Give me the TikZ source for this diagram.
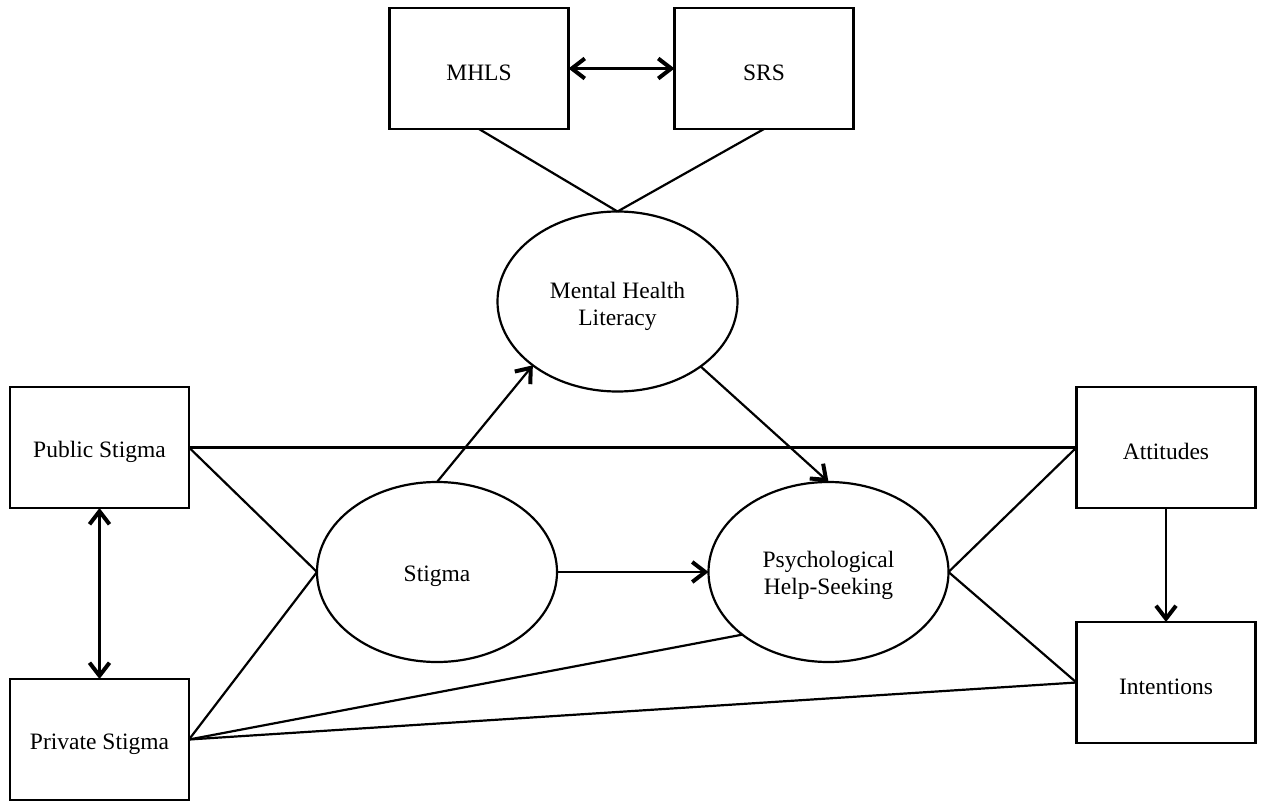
\documentclass[tikz,border=0pt]{standalone}
\usepackage{fontspec}
\setmainfont{Liberation Serif}
\usetikzlibrary{arrows.meta,shapes.geometric}
\begin{document}
\begin{tikzpicture}[x=1pt,y=-1pt,
  every node/.style={font=\fontsize{23.5}{27}\selectfont, align=center},
  lower/.style={execute at begin node={\rule{0pt}{25pt}}},
  box/.style={draw, line width=2.2pt, rectangle, minimum width=179pt, minimum height=121pt, inner sep=0pt, outer sep=0pt, lower},
  latent/.style={draw, line width=2.2pt, ellipse, minimum width=240pt, minimum height=180pt, inner sep=0pt, outer sep=0pt},
  conn/.style={line width=2.2pt},
  onearrow/.style={conn, -{Straight Barb[length=13pt,width=20pt,line width=4pt]}},
  twoarrow/.style={conn, {Straight Barb[length=13pt,width=20pt,line width=4pt]}-{Straight Barb[length=13pt,width=20pt,line width=4pt]}}
]
\useasboundingbox (0,0) rectangle (1262,803);
% boxes
\node[box] (mhls) at (479,68.5) {MHLS};
\node[box] (srs) at (764,68.5) {SRS};
\node[box] (pub) at (99.5,447.5) {Public Stigma};
\node[box] (priv) at (99.5,739.5) {Private Stigma};
\node[box] (att) at (1166,447.5) {Attitudes};
\node[box] (int) at (1166,682.5) {Intentions};
% latent variables
\node[latent] (mhl) at (617.5,301.5) {\rule{0pt}{27pt}Mental Health\\Literacy};
\node[latent, lower] (stig) at (437,572) {Stigma};
\node[latent] (phs) at (828.5,572) {\rule{0pt}{24pt}Psychological\\Help-Seeking};
% connectors
\draw[twoarrow] (mhls.east) -- (srs.west);
\draw[conn] (mhls.south) -- (mhl.north);
\draw[conn] (srs.south) -- (mhl.north);
\draw[onearrow] (stig.north) -- (mhl.217.5);
\draw[onearrow] (mhl.322.5) -- (phs.north);
\draw[onearrow] (stig.east) -- (phs.west);
\draw[conn] (pub.east) -- (att.west);
\draw[conn] (pub.east) -- (stig.west);
\draw[conn] (priv.east) -- (stig.west);
\draw[conn] (priv.east) -- (phs.216.4);
\draw[conn] (priv.east) -- (int.west);
\draw[conn] (att.west) -- (phs.east);
\draw[conn] (int.west) -- (phs.east);
\draw[onearrow] (att.south) -- (int.north);
\draw[twoarrow] (pub.south) -- (priv.north);
\end{tikzpicture}
\end{document}
